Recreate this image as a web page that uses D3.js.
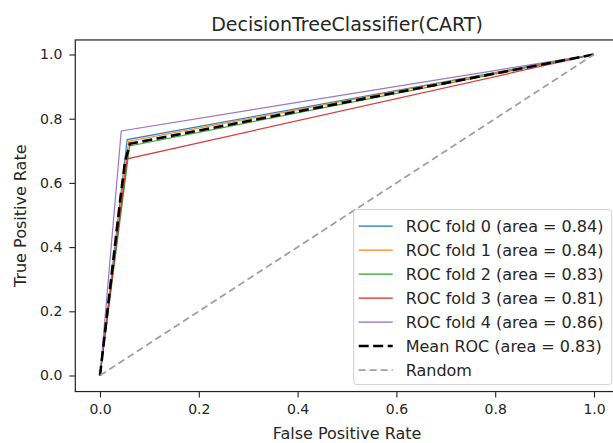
<!DOCTYPE HTML>
<html>
<head>
	<meta charset="utf-8">
	<style>
		body { margin: 0; background: white; }
		text { font-family: "DejaVu Sans", sans-serif; fill: #262626; }
		.fold { fill: none; stroke-width: 1.2px; }
		.domain { display: none; }
	</style>
	<script type="text/javascript" src="https://cdnjs.cloudflare.com/ajax/libs/d3/7.8.5/d3.min.js"></script>
</head>
<body>
<script>
	// data
	var foldNames = ["ROC fold 0", "ROC fold 1", "ROC fold 2", "ROC fold 3", "ROC fold 4"];
	var foldAUC = [0.84, 0.84, 0.83, 0.81, 0.86];
	var foldColors = ["#1f77b4", "#ff7f0e", "#2ca02c", "#d62728", "#9467bd"];
	var foldFPR = [
		[0, 0.055, 1],
		[0, 0.058, 1],
		[0, 0.060, 1],
		[0, 0.055, 1],
		[0, 0.043, 1]
	];
	var foldTPR = [
		[0, 0.735, 1],
		[0, 0.730, 1],
		[0, 0.715, 1],
		[0, 0.675, 1],
		[0, 0.762, 1]
	];
	var meanFPR = [0, 0.0404, 0.0505, 0.0606, 1];
	var meanTPR = [0, 0.54, 0.665, 0.722, 1];
	var meanAUC = 0.83;
	var randomFPR = [0, 1];
	var randomTPR = [0, 1];
	var xTicks = [0, 0.2, 0.4, 0.6, 0.8, 1.0];
	var yTicks = [0, 0.2, 0.4, 0.6, 0.8, 1.0];

	var W = 613, H = 443;
	var x = d3.scaleLinear().domain([0, 1]).range([100, 594]);
	var y = d3.scaleLinear().domain([0, 1]).range([375.5, 54.5]);
	var axLeft = x(-0.05), axRight = x(1.05), axTop = y(1.05) + 1.5, axBottom = y(-0.05);

	var svg = d3.select("body").append("svg")
		.attr("width", W)
		.attr("height", H);

	var line = d3.line()
		.x(function(d) { return x(d[0]); })
		.y(function(d) { return y(d[1]); });
	var pairs = function(a, b) { return a.map(function(v, i) { return [v, b[i]]; }); };

	// folds
	foldNames.forEach(function(name, i) {
		svg.append("path")
			.datum(pairs(foldFPR[i], foldTPR[i]))
			.attr("class", "fold")
			.attr("stroke", foldColors[i])
			.attr("stroke-opacity", 0.9)
			.attr("d", line);
	});
	// mean
	svg.append("path")
		.datum(pairs(meanFPR, meanTPR))
		.attr("fill", "none")
		.attr("stroke", "black")
		.attr("stroke-width", 2.6)
		.attr("stroke-dasharray", "10,4.5")
		.attr("d", line);
	// random
	svg.append("path")
		.datum(pairs(randomFPR, randomTPR))
		.attr("fill", "none")
		.attr("stroke", "#a0a0a0")
		.attr("stroke-width", 1.8)
		.attr("stroke-dasharray", "7,4")
		.attr("d", line);

	// axes
	svg.append("g")
		.attr("transform", "translate(0," + axBottom + ")")
		.call(d3.axisBottom(x).tickValues(xTicks).tickFormat(d3.format(".1f")).tickSize(6).tickPadding(7));
	svg.append("g")
		.attr("transform", "translate(" + axLeft + ",0)")
		.call(d3.axisLeft(y).tickValues(yTicks).tickFormat(d3.format(".1f")).tickSize(6).tickPadding(7));
	svg.selectAll(".tick text").attr("font-size", "14px").attr("font-family", "DejaVu Sans").attr("fill", "#262626");
	svg.selectAll(".tick line").attr("stroke", "#222").attr("stroke-width", 1.1);

	// spines
	svg.append("rect")
		.attr("x", axLeft).attr("y", axTop)
		.attr("width", axRight - axLeft).attr("height", axBottom - axTop)
		.attr("fill", "none").attr("stroke", "#222").attr("stroke-width", 1.2);

	// labels
	svg.append("text")
		.attr("x", (axLeft + axRight) / 2).attr("y", 31)
		.attr("text-anchor", "middle").attr("font-size", "19px")
		.text("DecisionTreeClassifier(CART)");
	svg.append("text")
		.attr("x", (axLeft + axRight) / 2).attr("y", 439)
		.attr("text-anchor", "middle").attr("font-size", "16px")
		.text("False Positive Rate");
	svg.append("text")
		.attr("transform", "translate(26," + ((axTop + axBottom) / 2) + ") rotate(-90)")
		.attr("text-anchor", "middle").attr("font-size", "16px")
		.text("True Positive Rate");

	// legend
	var legendItems = foldNames.map(function(n, i) {
		return {label: n + " (area = " + foldAUC[i].toFixed(2) + ")", color: foldColors[i], width: 1.2, dash: null};
	});
	legendItems.push({label: "Mean ROC (area = " + meanAUC.toFixed(2) + ")", color: "black", width: 2.6, dash: "10,4.5"});
	legendItems.push({label: "Random", color: "#a0a0a0", width: 1.8, dash: "7,4"});

	var lgW = 258, lgH = 175;
	var lgX = axRight - 7 - lgW, lgY = axBottom - 7 - lgH;
	var lg = svg.append("g").attr("transform", "translate(" + lgX + "," + lgY + ")");
	lg.append("rect")
		.attr("width", lgW).attr("height", lgH).attr("rx", 3)
		.attr("fill", "white").attr("fill-opacity", 0.9)
		.attr("stroke", "#d0d0d0").attr("stroke-width", 1);
	var row = lg.selectAll(".row").data(legendItems).enter().append("g")
		.attr("transform", function(d, i) { return "translate(0," + (16.5 + i * 24) + ")"; });
	row.append("line")
		.attr("x1", 5).attr("x2", 39)
		.attr("stroke", function(d) { return d.color; })
		.attr("stroke-width", function(d) { return d.width; })
		.attr("stroke-dasharray", function(d) { return d.dash; });
	row.append("text")
		.attr("x", 52).attr("dy", "0.35em").attr("font-size", "16px")
		.text(function(d) { return d.label; });
</script>
</body>
</html>
